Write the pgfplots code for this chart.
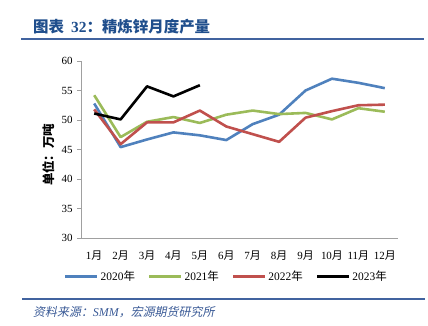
\documentclass[border=0pt]{standalone}
\usepackage{fontspec}
\setmainfont{Liberation Serif}
\newfontfamily\cjk{Noto Sans CJK SC}
\newfontfamily\cjkit{Noto Sans CJK SC}[FakeSlant=0.2]
\usepackage{pgfplots}
\pgfplotsset{compat=1.18}
\definecolor{titleblue}{HTML}{1F4E8C}
\definecolor{rule}{HTML}{41639F}
\definecolor{srcblue}{HTML}{3A5A96}
\definecolor{c20}{HTML}{4F81BD}
\definecolor{c21}{HTML}{9BBB59}
\definecolor{c22}{HTML}{C0504D}
\definecolor{axgray}{HTML}{A0A0A0}
\begin{document}
\begin{tikzpicture}[x=1bp,y=1bp]
\path[use as bounding box] (0,0) rectangle (428,326);
% title
\node[anchor=base west, inner sep=0, text=titleblue, font=\fontsize{15.5}{17}\selectfont] at (33,293.5) {\cjk\bfseries 图表\ \ \rmfamily\bfseries 32\cjk\bfseries ：精炼锌月度产量};
\draw[rule, line width=2.2bp] (21,287) -- (424,287);
\draw[rule, line width=1.6bp] (22,27) -- (425,27);
\node[anchor=base west, inner sep=0, text=srcblue, font=\fontsize{12}{13}\selectfont] at (33,9.5) {\cjkit 资料来源：\rmfamily\itshape SMM\cjkit ，宏源期货研究所};
\begin{axis}[
  at={(81bp,88bp)}, anchor=south west,
  scale only axis, width=317bp, height=177bp,
  xmin=0.5, xmax=12.5, ymin=30, ymax=60,
  axis lines*=left,
  axis line style={axgray, line width=0.8bp},
  xtick={1,...,12},
  xticklabels={{1\cjk 月},{2\cjk 月},{3\cjk 月},{4\cjk 月},{5\cjk 月},{6\cjk 月},{7\cjk 月},{8\cjk 月},{9\cjk 月},{10\cjk 月},{11\cjk 月},{12\cjk 月}},
  x tick style={draw=none},
  xticklabel style={font=\fontsize{11}{12}\selectfont, yshift=-5bp},
  ytick={30,35,...,60},
  y tick style={axgray, line width=0.8bp},
  major tick length=4bp,
  tick align=outside,
  yticklabel style={font=\fontsize{11}{12}\selectfont, xshift=-1bp},
  /pgf/number format/assume math mode=true,
  ylabel={\cjk\bfseries 单位：万吨},
  ylabel style={font=\fontsize{12.5}{13}\selectfont, at={(axis description cs:-0.072,0.47)}, anchor=south},
  legend columns=4,
  legend style={draw=none, fill=none, at={(0.4587,-0.2175)}, anchor=center,
    font=\fontsize{11.5}{13}\selectfont, inner sep=0pt,
    /tikz/every even column/.append style={column sep=11bp}},
  legend image code/.code={\draw[#1] (0bp,0bp) -- (32bp,0bp);},
  legend cell align=left,
  every axis plot/.append style={line width=2.6bp, line join=round},
]
\addplot[c20] coordinates {(1,52.8) (2,45.4) (3,46.7) (4,47.9) (5,47.4) (6,46.6) (7,49.3) (8,50.9) (9,55.0) (10,57.0) (11,56.3) (12,55.4)};
\addlegendentry{2020\cjk 年}
\addplot[c21] coordinates {(1,54.2) (2,47.1) (3,49.7) (4,50.5) (5,49.5) (6,50.9) (7,51.6) (8,51.0) (9,51.2) (10,50.1) (11,52.0) (12,51.4)};
\addlegendentry{2021\cjk 年}
\addplot[c22] coordinates {(1,51.8) (2,45.9) (3,49.6) (4,49.6) (5,51.6) (6,48.9) (7,47.6) (8,46.3) (9,50.4) (10,51.5) (11,52.5) (12,52.6)};
\addlegendentry{2022\cjk 年}
\addplot[black] coordinates {(1,51.1) (2,50.1) (3,55.7) (4,54.0) (5,55.9)};
\addlegendentry{2023\cjk 年}
\end{axis}
\end{tikzpicture}
\end{document}
